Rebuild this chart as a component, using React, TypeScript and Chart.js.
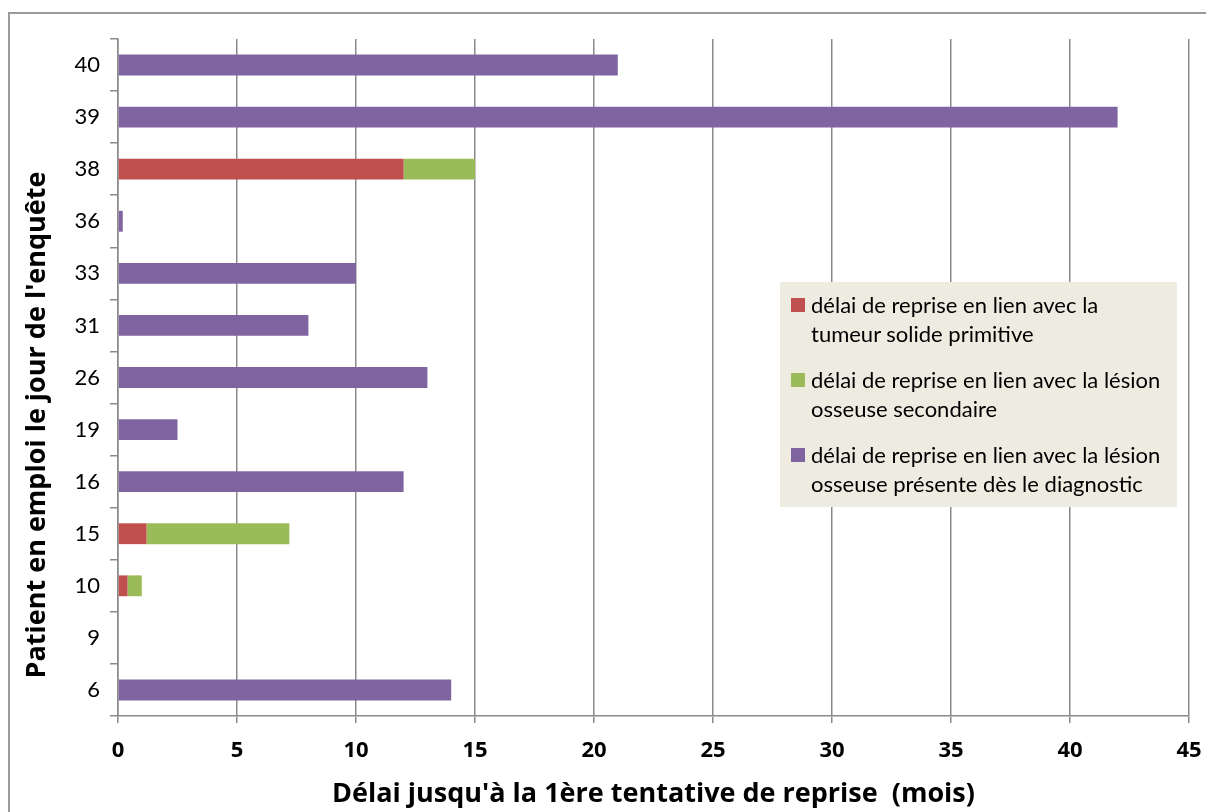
import React, { useEffect, useRef } from "react";
import { Chart, registerables } from "chart.js";

Chart.register(...registerables);

const categories = ["40", "39", "38", "36", "33", "31", "26", "19", "16", "15", "10", "9", "6"];
const primitiveValues = [null, null, 12, null, null, null, null, null, null, 1.2, 0.4, null, null];
const secondaireValues = [null, null, 3, null, null, null, null, null, null, 6, 0.6, null, null];
const diagnosticValues = [21, 42, null, 0.2, 10, 8, 13, 2.5, 12, null, null, null, 14];

const seriesNames = [
  ["délai de reprise en lien avec la", "tumeur solide primitive"],
  ["délai de reprise en lien avec la lésion", "osseuse secondaire"],
  ["délai de reprise en lien avec la lésion", "osseuse présente dès le diagnostic"],
];
const seriesColors = ["#C0504D", "#9BBB59", "#8064A2"];

const xTitle = "Délai jusqu'à la 1ère tentative de reprise  (mois)";
const yTitle = "Patient en emploi le jour de l'enquête";

const FONT = "Lato, 'Open Sans', sans-serif";
const BOLD_FONT = "'Open Sans', Lato, sans-serif";

export default function App() {
  const ref = useRef<HTMLCanvasElement>(null);

  useEffect(() => {
    const canvas = ref.current;
    if (!canvas) return;
    const titlesPlugin = {
      id: "titles",
      afterDraw(chart: any) {
        const ctx = chart.ctx;
        const area = chart.chartArea;
        ctx.save();
        ctx.fillStyle = "#000";
        ctx.font = `bold 27px ${BOLD_FONT}`;
        ctx.textAlign = "center";
        ctx.textBaseline = "middle";
        ctx.fillText(xTitle, (area.left + area.right) / 2, 794);
        ctx.translate(37, 425);
        ctx.rotate(-Math.PI / 2);
        ctx.fillText(yTitle, 0, 0);
        ctx.restore();
      },
    };
    const chart = new Chart(canvas, {
      type: "bar",
      data: {
        labels: categories,
        datasets: [
          { label: seriesNames[0].join(" "), data: primitiveValues as any, backgroundColor: seriesColors[0], borderWidth: 0 },
          { label: seriesNames[1].join(" "), data: secondaireValues as any, backgroundColor: seriesColors[1], borderWidth: 0 },
          { label: seriesNames[2].join(" "), data: diagnosticValues as any, backgroundColor: seriesColors[2], borderWidth: 0 },
        ],
      },
      options: {
        indexAxis: "y",
        responsive: false,
        animation: false,
        layout: { padding: { top: 39, right: 17, left: 0, bottom: 0 } },
        datasets: { bar: { categoryPercentage: 1, barPercentage: 0.4 } } as any,
        plugins: { legend: { display: false }, tooltip: { enabled: false } },
        scales: {
          x: {
            type: "linear",
            stacked: true,
            min: 0,
            max: 45,
            ticks: { stepSize: 5, color: "#000", font: { family: BOLD_FONT, size: 22, weight: "bold" }, padding: 15 },
            grid: { color: "#8a8a8a", lineWidth: 1.5, tickLength: 7, drawOnChartArea: true },
            border: { color: "#8a8a8a", width: 1.5 },
            afterFit(scale: any) {
              scale.height = 96;
              scale.paddingLeft = 0;
              scale.paddingRight = 0;
            },
          },
          y: {
            type: "category",
            stacked: true,
            offset: true,
            ticks: { color: "#000", font: { family: FONT, size: 22 }, padding: 10 },
            grid: { color: "#8a8a8a", lineWidth: 1.5, tickLength: 8, drawOnChartArea: false, offset: true },
            border: { color: "#8a8a8a", width: 1.5 },
            afterFit(scale: any) {
              scale.width = 118;
              scale.paddingTop = 0;
              scale.paddingBottom = 0;
            },
          },
        },
      },
      plugins: [titlesPlugin],
    });
    return () => chart.destroy();
  }, []);

  return (
    <div style={{ position: "fixed", left: 0, top: 0, width: 1206, height: 812, overflow: "hidden", background: "#fff" }}>
      <div style={{ position: "absolute", left: 8, top: 12, width: 1400, height: 1000, border: "2px solid #9a9a9a" }} />
      <canvas ref={ref} width={1206} height={812} style={{ position: "absolute", left: 0, top: 0, width: 1206, height: 812 }} />
      <div
        style={{
          position: "absolute",
          left: 780,
          top: 282,
          width: 397,
          height: 225,
          background: "#EEECE1",
          fontFamily: FONT,
          fontSize: 22,
          color: "#000",
          boxSizing: "border-box",
          paddingTop: 8,
        }}
      >
        {seriesNames.map((lines, i) => (
          <div key={i} style={{ position: "relative", paddingLeft: 31, height: 75, lineHeight: "29px" }}>
            <span
              style={{
                position: "absolute",
                left: 11,
                top: 8,
                width: 14,
                height: 14,
                background: seriesColors[i],
              }}
            />
            {lines.map((l, j) => (
              <div key={j} style={{ whiteSpace: "nowrap" }}>{l}</div>
            ))}
          </div>
        ))}
      </div>
    </div>
  );
}
